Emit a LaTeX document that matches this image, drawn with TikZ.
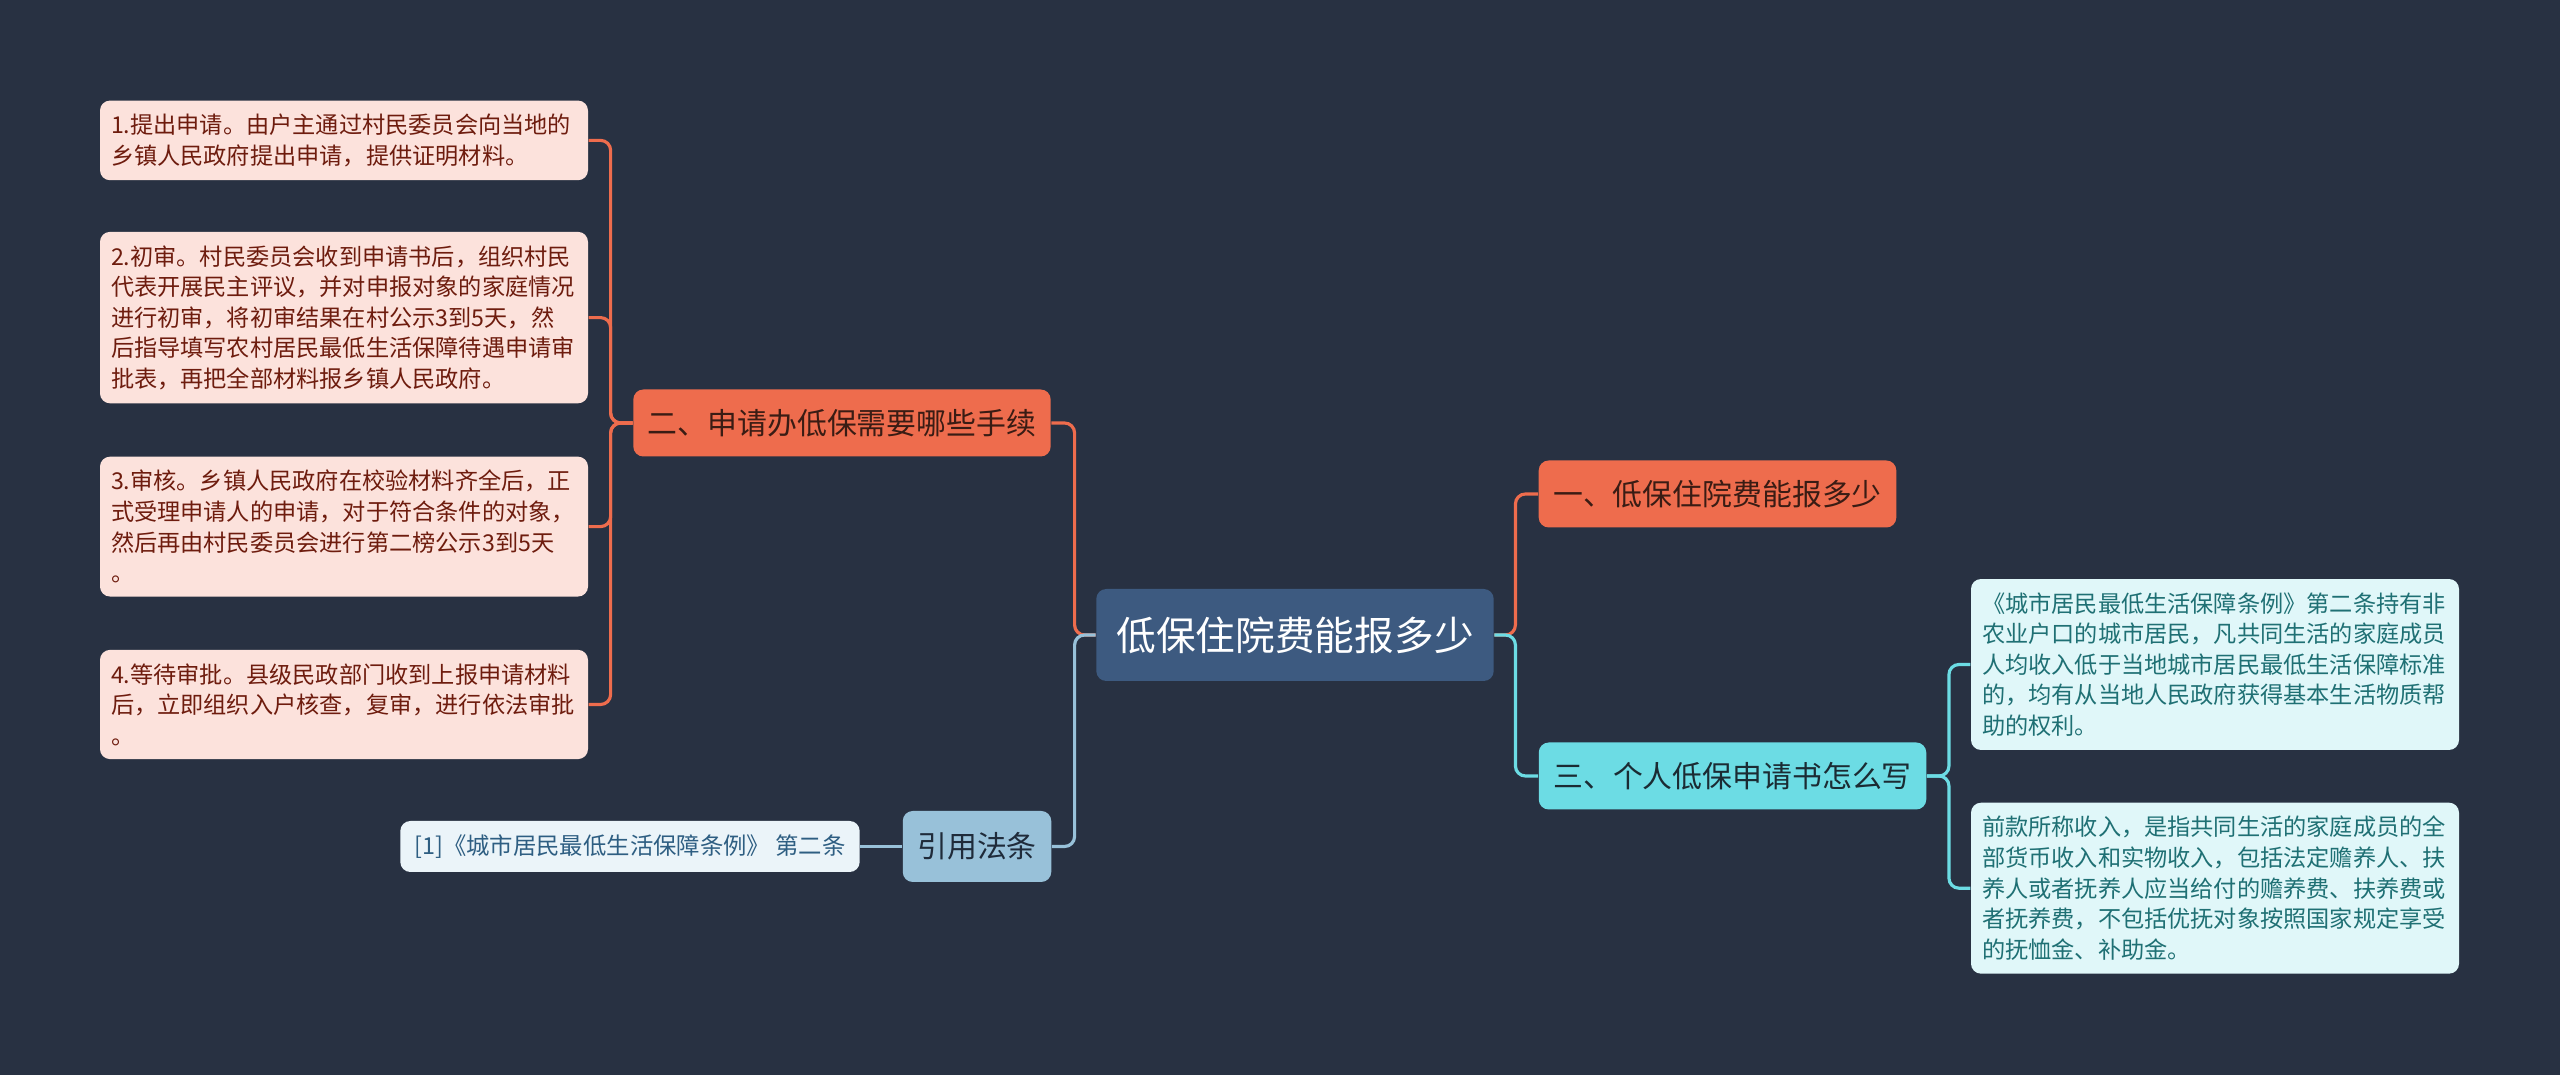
\documentclass[tikz,border=0pt]{standalone}
\usepackage{fontspec}
\setmainfont{Noto Sans CJK SC}
\usetikzlibrary{calc}
\definecolor{bg_color}{HTML}{283142}
\definecolor{root_fill}{HTML}{3D5A80}
\definecolor{orange_fill}{HTML}{EE6C4D}
\definecolor{orange_text}{HTML}{3A1C14}
\definecolor{orange_leaf_fill}{HTML}{FCE2DC}
\definecolor{orange_leaf_text}{HTML}{6E1C0E}
\definecolor{cyan_fill}{HTML}{6CDCE4}
\definecolor{cyan_text}{HTML}{1B2B33}
\definecolor{cyan_leaf_fill}{HTML}{E0F7F9}
\definecolor{cyan_leaf_text}{HTML}{1F7074}
\definecolor{blue_fill}{HTML}{98C1D9}
\definecolor{blue_text}{HTML}{1F2B3A}
\definecolor{blue_leaf_fill}{HTML}{EBF4F9}
\definecolor{blue_leaf_text}{HTML}{2E5E82}

\begin{document}
\begin{tikzpicture}[
        root_style/.style={rectangle,rounded corners=0.1cm,fill=root_fill,text=white,font=\fontsize{11.3}{13}\selectfont,inner xsep=0.2cm,minimum height=0.92cm},
        topic_style/.style={rectangle,rounded corners=0.1cm,font=\fontsize{8.5}{10}\selectfont,inner xsep=0.145cm,minimum height=0.67cm},
        orange_topic_style/.style={topic_style,fill=orange_fill,text=orange_text},
        cyan_topic_style/.style={topic_style,fill=cyan_fill,text=cyan_text},
        blue_topic_style/.style={topic_style,fill=blue_fill,text=blue_text,minimum height=0.71cm},
        leaf_style/.style={rectangle,rounded corners=0.1cm,font=\fontsize{6.6}{8.7}\selectfont,text width=4.66cm,align=left,inner xsep=0.11cm,inner ysep=0.135cm},
        orange_leaf_style/.style={leaf_style,fill=orange_leaf_fill,text=orange_leaf_text},
        cyan_leaf_style/.style={leaf_style,fill=cyan_leaf_fill,text=cyan_leaf_text},
        blue_leaf_style/.style={rectangle,rounded corners=0.1cm,fill=blue_leaf_fill,text=blue_leaf_text,font=\fontsize{6.65}{8}\selectfont,inner xsep=0.14cm,minimum height=0.51cm},
        edge_style/.style={line width=0.9pt,rounded corners=0.1cm,-},
        orange_edge_style/.style={edge_style,draw=orange_fill},
        cyan_edge_style/.style={edge_style,draw=cyan_fill},
        blue_edge_style/.style={edge_style,draw=blue_fill}]

        \fill [bg_color] (0,0) rectangle (25.6,-10.75);
        \useasboundingbox (0,0) rectangle (25.6,-10.75);

        \node [root_style](root) at (12.95,-6.35) {低保住院费能报多少};
        \node [orange_topic_style](t1) at (17.175,-4.94) {一、低保住院费能报多少};
        \node [orange_topic_style](t2) at (8.42,-4.23) {二、申请办低保需要哪些手续};
        \node [cyan_topic_style](t3) at (17.325,-7.76) {三、个人低保申请书怎么写};
        \node [blue_topic_style](cite) at (9.77,-8.465) {引用法条};

        \node [orange_leaf_style](l1) at (3.44,-1.404) {1.提出申请。由户主通过村民委员会向当地的\\乡镇人民政府提出申请，提供证明材料。};
        \node [orange_leaf_style](l2) at (3.44,-3.176) {2.初审。村民委员会收到申请书后，组织村民\\代表开展民主评议，并对申报对象的家庭情况\\进行初审，将初审结果在村公示3到5天，然\\后指导填写农村居民最低生活保障待遇申请审\\批表，再把全部材料报乡镇人民政府。};
        \node [orange_leaf_style](l3) at (3.44,-5.266) {3.审核。乡镇人民政府在校验材料齐全后，正\\式受理申请人的申请，对于符合条件的对象，\\然后再由村民委员会进行第二榜公示3到5天\\。};
        \node [orange_leaf_style](l4) at (3.44,-7.045) {4.等待审批。县级民政部门收到上报申请材料\\后，立即组织入户核查，复审，进行依法审批\\。};
        \node [cyan_leaf_style](r1) at (22.15,-6.645) {《城市居民最低生活保障条例》第二条持有非\\农业户口的城市居民，凡共同生活的家庭成员\\人均收入低于当地城市居民最低生活保障标准\\的，均有从当地人民政府获得基本生活物质帮\\助的权利。};
        \node [cyan_leaf_style](r2) at (22.15,-8.882) {前款所称收入，是指共同生活的家庭成员的全\\部货币收入和实物收入，包括法定赡养人、扶\\养人或者抚养人应当给付的赡养费、扶养费或\\者抚养费，不包括优抚对象按照国家规定享受\\的抚恤金、补助金。};
        \node [blue_leaf_style](cite_leaf) at (6.30,-8.465) {[1]《城市居民最低生活保障条例》 第二条};

        \draw [orange_edge_style] (root.west) -- ++(-0.21,0) |- (t2.east);
        \draw [blue_edge_style] (root.west) -- ++(-0.21,0) |- (cite.east);
        \draw [orange_edge_style] (root.east) -- ++(0.21,0) |- (t1.west);
        \draw [cyan_edge_style] (root.east) -- ++(0.21,0) |- (t3.west);
        \draw [orange_edge_style] (t2.west) -- ++(-0.22,0) |- (l1.east);
        \draw [orange_edge_style] (t2.west) -- ++(-0.22,0) |- (l2.east);
        \draw [orange_edge_style] (t2.west) -- ++(-0.22,0) |- (l3.east);
        \draw [orange_edge_style] (t2.west) -- ++(-0.22,0) |- (l4.east);
        \draw [cyan_edge_style] (t3.east) -- ++(0.22,0) |- (r1.west);
        \draw [cyan_edge_style] (t3.east) -- ++(0.22,0) |- (r2.west);
        \draw [blue_edge_style] (cite.west) -- (cite_leaf.east);
\end{tikzpicture}
\end{document}
